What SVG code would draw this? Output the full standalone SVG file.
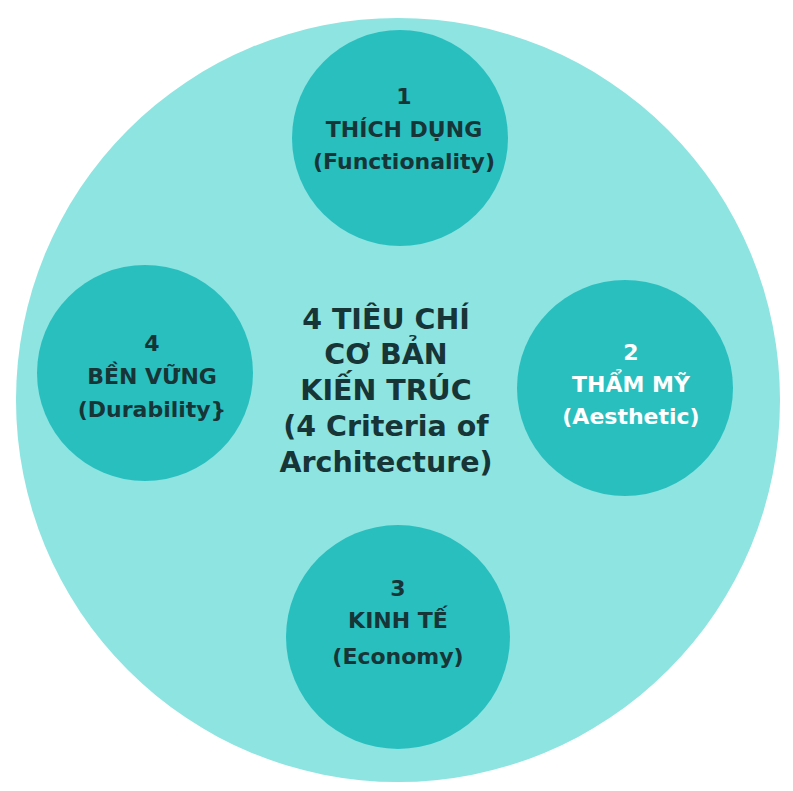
<svg xmlns="http://www.w3.org/2000/svg" width="793" height="791" viewBox="0 0 793 791">
<style>
.c{fill:#29bfbf}
.t{font-family:"DejaVu Sans",Verdana,sans-serif;font-weight:bold;font-size:22px;text-anchor:middle;fill:#173436}
.w{fill:#ffffff}
.m{font-size:28.5px}
</style>
<rect width="793" height="791" fill="#ffffff"/>
<g id="outer"><circle cx="398" cy="400" r="382" fill="#8ee4e1"/>
<text class="t m"><tspan x="386" y="329">4 TIÊU CHÍ</tspan><tspan x="386" y="364">CƠ BẢN</tspan><tspan x="386" y="400">KIẾN TRÚC</tspan><tspan x="386" y="436">(4 Criteria of</tspan><tspan x="386" y="472">Architecture)</tspan></text></g>
<g id="n1"><circle class="c" cx="400" cy="138" r="108"/>
<text class="t"><tspan x="404" y="104">1</tspan><tspan x="404" y="137">THÍCH DỤNG</tspan><tspan x="404" y="169">(Functionality)</tspan></text></g>
<g id="n2"><circle class="c" cx="625" cy="388" r="108"/>
<text class="t w"><tspan x="631" y="360">2</tspan><tspan x="631" y="392">THẨM MỸ</tspan><tspan x="631" y="424">(Aesthetic)</tspan></text></g>
<g id="n3"><circle class="c" cx="398" cy="637" r="112"/>
<text class="t"><tspan x="398" y="596">3</tspan><tspan x="398" y="628">KINH TẾ</tspan><tspan x="398" y="664">(Economy)</tspan></text></g>
<g id="n4"><circle class="c" cx="145" cy="373" r="108"/>
<text class="t"><tspan x="152" y="351">4</tspan><tspan x="152" y="384">BỀN VỮNG</tspan><tspan x="152" y="417">(Durability}</tspan></text></g>
<g id="connectors"/>
</svg>
